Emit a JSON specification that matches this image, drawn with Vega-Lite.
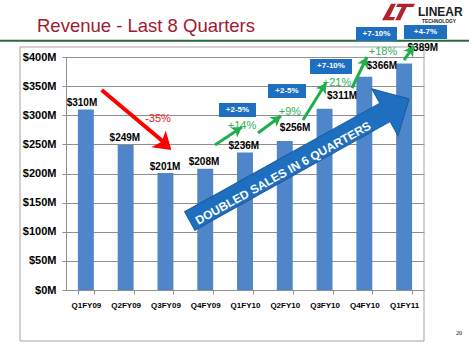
{
  "$schema": "https://vega.github.io/schema/vega-lite/v6.json",
  "width": 358,
  "height": 233,
  "autosize": {"type": "none"},
  "padding": {"left": 66, "top": 57, "right": 45, "bottom": 66},
  "background": "white",
  "config": {"view": {"stroke": null}, "font": "Liberation Sans"},
  "datasets": {
    "revenue": [
      {"quarter": "Q1FY09", "revenue": 310},
      {"quarter": "Q2FY09", "revenue": 249},
      {"quarter": "Q3FY09", "revenue": 201},
      {"quarter": "Q4FY09", "revenue": 208},
      {"quarter": "Q1FY10", "revenue": 236},
      {"quarter": "Q2FY10", "revenue": 256},
      {"quarter": "Q3FY10", "revenue": 311},
      {"quarter": "Q4FY10", "revenue": 366},
      {"quarter": "Q1FY11", "revenue": 389}
    ],
    "valueLabels": [
      {"label": "$310M", "x": 0.40, "y": 321},
      {"label": "$249M", "x": 1.48, "y": 261},
      {"label": "$201M", "x": 2.49, "y": 211},
      {"label": "$208M", "x": 3.47, "y": 220},
      {"label": "$236M", "x": 4.47, "y": 247},
      {"label": "$256M", "x": 5.76, "y": 278},
      {"label": "$311M", "x": 6.94, "y": 333},
      {"label": "$366M", "x": 7.94, "y": 385},
      {"label": "$389M", "x": 8.97, "y": 416}
    ],
    "growthArrows": [
      {"x": 3.746, "y": 248.9, "x2": 4.425, "y2": 279.8},
      {"x": 4.827, "y": 269.5, "x2": 5.405, "y2": 298.7},
      {"x": 5.958, "y": 291.8, "x2": 6.536, "y2": 355.4},
      {"x": 7.19, "y": 346.8, "x2": 7.567, "y2": 400},
      {"x": 8.497, "y": 394.8, "x2": 8.749, "y2": 418.9}
    ],
    "growthLabels": [
      {"label": "+14%", "x": 4.425, "y": 281.5},
      {"label": "+9%", "x": 5.631, "y": 305.6},
      {"label": "+21%", "x": 6.813, "y": 355.4},
      {"label": "+18%", "x": 7.969, "y": 408.6}
    ],
    "guidance": [
      {"label": "+2-5%", "x": 3.846, "x2": 4.776, "y": 321.0, "y2": 297.0},
      {"label": "+2-5%", "x": 5.078, "x2": 6.033, "y": 353.6, "y2": 329.6},
      {"label": "+7-10%", "x": 6.134, "x2": 7.19, "y": 396.6, "y2": 370.8},
      {"label": "+7-10%", "x": 7.29, "x2": 8.321, "y": 451.5, "y2": 427.5},
      {"label": "+4-7%", "x": 8.497, "x2": 9.578, "y": 454.9, "y2": 430.9}
    ]
  },
  "resolve": {"scale": {"x": "independent", "y": "independent"}, "axis": {"x": "independent", "y": "independent"}},
  "layer": [
    {
      "data": {"values": [{}]},
      "mark": {"type": "rect", "fill": "transparent", "stroke": "#a3a3a3", "strokeWidth": 1},
      "encoding": {
        "x": {"datum": -1.156, "type": "quantitative", "scale": {"domain": [0, 9], "nice": false, "zero": false}, "axis": null},
        "x2": {"datum": 9.0},
        "y": {"datum": 417.2, "type": "quantitative", "scale": {"domain": [0, 400], "nice": false}, "axis": null},
        "y2": {"datum": -87.6}
      }
    },
    {
      "data": {"values": [{}]},
      "mark": {"type": "rule", "stroke": "#2a6a3a", "strokeWidth": 2},
      "encoding": {
        "x": {"datum": -1.7, "type": "quantitative", "scale": {"domain": [0, 9], "nice": false, "zero": false}, "axis": null},
        "x2": {"datum": 10.2},
        "y": {"datum": 428.0, "type": "quantitative", "scale": {"domain": [0, 400], "nice": false}, "axis": null}
      }
    },
    {
      "data": {"values": [{"t": "Revenue - Last 8 Quarters"}]},
      "mark": {"type": "text", "align": "left", "baseline": "alphabetic", "fontSize": 18.5, "color": "#a1192f", "font": "Liberation Sans"},
      "encoding": {
        "x": {"datum": -0.729, "type": "quantitative", "scale": {"domain": [0, 9], "nice": false, "zero": false}, "axis": null},
        "y": {"datum": 442.9, "type": "quantitative", "scale": {"domain": [0, 400], "nice": false}, "axis": null},
        "text": {"field": "t"}
      }
    },
    {
      "data": {"values": [{}]},
      "mark": {"type": "point", "filled": true, "opacity": 1, "color": "#b0232f", "size": 1089,
        "shape": "M-1,0.5L-0.3,0.5L-0.2,0.3L-0.55,0.3L-0.15,-0.5L-0.45,-0.5Z M-0.05,-0.5L1,-0.5L0.9,-0.3L0.5,-0.3L0.1,0.5L-0.2,0.5L0.2,-0.3L-0.15,-0.3Z"},
      "encoding": {
        "x": {"datum": 8.359, "type": "quantitative", "scale": {"domain": [0, 9], "nice": false, "zero": false}, "axis": null},
        "y": {"datum": 477.3, "type": "quantitative", "scale": {"domain": [0, 400], "nice": false}, "axis": null}
      }
    },
    {
      "data": {"values": [{"t": "LINEAR", "s": "TECHNOLOGY"}]},
      "layer": [
        {
          "mark": {"type": "text", "align": "left", "baseline": "alphabetic", "fontSize": 12, "fontWeight": "bold", "font": "Liberation Sans", "color": "#1a1a1a"},
          "encoding": {
            "x": {"datum": 8.85, "type": "quantitative", "scale": {"domain": [0, 9], "nice": false, "zero": false}, "axis": null},
            "y": {"datum": 470.0, "type": "quantitative", "scale": {"domain": [0, 400], "nice": false}, "axis": null},
            "text": {"field": "t"}
          }
        },
        {
          "mark": {"type": "text", "align": "left", "baseline": "alphabetic", "fontSize": 4.8, "fontWeight": "bold", "font": "Liberation Sans", "color": "#1a1a1a"},
          "encoding": {
            "x": {"datum": 8.95, "type": "quantitative", "scale": {"domain": [0, 9], "nice": false, "zero": false}, "axis": null},
            "y": {"datum": 458.0, "type": "quantitative", "scale": {"domain": [0, 400], "nice": false}, "axis": null},
            "text": {"field": "s"}
          }
        }
      ]
    },
    {
      "data": {"name": "revenue"},
      "mark": {"type": "bar", "color": "#4f86c9"},
      "encoding": {
        "x": {
          "field": "quarter", "type": "nominal", "sort": null,
          "scale": {"paddingInner": 0.6, "paddingOuter": 0.3},
          "axis": {"title": null, "labelAngle": 0, "labelFontSize": 8, "labelFontWeight": "bold", "labelColor": "#000000",
            "labelFont": "Liberation Sans", "tickBand": "extent", "tickSize": 4, "tickColor": "#8f8f8f",
            "domainColor": "#8f8f8f", "labelPadding": 7}
        },
        "y": {
          "field": "revenue", "type": "quantitative", "scale": {"domain": [0, 400], "nice": false},
          "axis": {"title": null, "values": [0, 50, 100, 150, 200, 250, 300, 350, 400],
            "labelExpr": "'$' + datum.value + 'M'", "grid": true, "gridColor": "#8f8f8f", "gridWidth": 1,
            "domainColor": "#8f8f8f", "tickColor": "#8f8f8f", "tickSize": 4, "labelPadding": 6,
            "labelFontSize": 11, "labelFontWeight": "bold", "labelColor": "#000000", "labelFont": "Liberation Sans"}
        }
      }
    },
    {
      "data": {"values": [{}]},
      "layer": [
        {
          "mark": {"type": "rule", "stroke": "#ff0000", "strokeWidth": 4},
          "encoding": {
            "x": {"datum": 0.897, "type": "quantitative", "scale": {"domain": [0, 9], "nice": false, "zero": false}, "axis": null},
            "x2": {"datum": 2.56},
            "y": {"datum": 343.3, "type": "quantitative", "scale": {"domain": [0, 400], "nice": false}, "axis": null},
            "y2": {"datum": 248.0}
          }
        },
        {
          "mark": {"type": "point", "filled": true, "opacity": 1, "color": "#ff0000", "size": 1156, "angle": 40.7,
            "shape": "M0,0L-1,-0.65L-0.75,0L-1,0.65Z"},
          "encoding": {
            "x": {"datum": 2.649, "type": "quantitative", "scale": {"domain": [0, 9], "nice": false, "zero": false}, "axis": null},
            "y": {"datum": 240.3, "type": "quantitative", "scale": {"domain": [0, 400], "nice": false}, "axis": null}
          }
        }
      ]
    },
    {
      "data": {"values": [{"t": "-35%"}]},
      "mark": {"type": "text", "fontSize": 11, "color": "#e8202a", "align": "center", "baseline": "middle"},
      "encoding": {
        "x": {"datum": 2.313, "type": "quantitative", "scale": {"domain": [0, 9], "nice": false, "zero": false}, "axis": null},
        "y": {"datum": 293.6, "type": "quantitative", "scale": {"domain": [0, 400], "nice": false}, "axis": null},
        "text": {"field": "t"}
      }
    },
    {
      "data": {"name": "valueLabels"},
      "mark": {"type": "text", "fontSize": 10, "fontWeight": "bold", "color": "#000000", "align": "center", "baseline": "middle"},
      "encoding": {
        "x": {"field": "x", "type": "quantitative", "scale": {"domain": [0, 9], "nice": false, "zero": false}, "axis": null},
        "y": {"field": "y", "type": "quantitative", "scale": {"domain": [0, 400], "nice": false}, "axis": null},
        "text": {"field": "label"}
      }
    },
    {
      "data": {"values": [{"t": "DOUBLED SALES IN 6 QUARTERS"}]},
      "layer": [
        {
          "mark": {"type": "point", "filled": true, "opacity": 1, "color": "#1e6fc0", "stroke": "#1a5c9e", "strokeWidth": 1,
            "size": 63001, "angle": -29.1,
            "shape": "M-1,-0.084L0.78,-0.084L0.78,-0.215L1,0L0.78,0.215L0.78,0.084L-1,0.084Z"},
          "encoding": {
            "x": {"datum": 5.868, "type": "quantitative", "scale": {"domain": [0, 9], "nice": false, "zero": false}, "axis": null},
            "y": {"datum": 223.2, "type": "quantitative", "scale": {"domain": [0, 400], "nice": false}, "axis": null}
          }
        },
        {
          "mark": {"type": "text", "fontSize": 12, "fontWeight": "bold", "color": "#ffffff", "angle": -29.1, "align": "center", "baseline": "middle"},
          "encoding": {
            "x": {"datum": 5.455, "type": "quantitative", "scale": {"domain": [0, 9], "nice": false, "zero": false}, "axis": null},
            "y": {"datum": 200.5, "type": "quantitative", "scale": {"domain": [0, 400], "nice": false}, "axis": null},
            "text": {"field": "t"}
          }
        }
      ]
    },
    {
      "data": {"name": "growthArrows"},
      "transform": [
        {"calculate": "atan2(-(datum.y2 - datum.y) * 0.5825, (datum.x2 - datum.x) * 39.778) * 180 / PI", "as": "angle"}
      ],
      "layer": [
        {
          "mark": {"type": "rule", "stroke": "#1fae4c", "strokeWidth": 3},
          "encoding": {
            "x": {"field": "x", "type": "quantitative", "scale": {"domain": [0, 9], "nice": false, "zero": false}, "axis": null},
            "x2": {"field": "x2"},
            "y": {"field": "y", "type": "quantitative", "scale": {"domain": [0, 400], "nice": false}, "axis": null},
            "y2": {"field": "y2"}
          }
        },
        {
          "mark": {"type": "point", "filled": true, "opacity": 1, "color": "#1fae4c", "size": 400,
            "shape": "M0,0L-1,-0.6L-0.75,0L-1,0.6Z"},
          "encoding": {
            "x": {"field": "x2", "type": "quantitative", "scale": {"domain": [0, 9], "nice": false, "zero": false}, "axis": null},
            "y": {"field": "y2", "type": "quantitative", "scale": {"domain": [0, 400], "nice": false}, "axis": null},
            "angle": {"field": "angle", "type": "quantitative", "scale": null}
          }
        }
      ]
    },
    {
      "data": {"name": "growthLabels"},
      "mark": {"type": "text", "fontSize": 11, "color": "#2db257", "align": "center", "baseline": "middle"},
      "encoding": {
        "x": {"field": "x", "type": "quantitative", "scale": {"domain": [0, 9], "nice": false, "zero": false}, "axis": null},
        "y": {"field": "y", "type": "quantitative", "scale": {"domain": [0, 400], "nice": false}, "axis": null},
        "text": {"field": "label"}
      }
    },
    {
      "data": {"name": "guidance"},
      "transform": [
        {"calculate": "(datum.x + datum.x2) / 2", "as": "cx"},
        {"calculate": "(datum.y + datum.y2) / 2", "as": "cy"}
      ],
      "layer": [
        {
          "mark": {"type": "rect", "color": "#1e6fc0"},
          "encoding": {
            "x": {"field": "x", "type": "quantitative", "scale": {"domain": [0, 9], "nice": false, "zero": false}, "axis": null},
            "x2": {"field": "x2"},
            "y": {"field": "y", "type": "quantitative", "scale": {"domain": [0, 400], "nice": false}, "axis": null},
            "y2": {"field": "y2"}
          }
        },
        {
          "mark": {"type": "text", "fontSize": 8, "fontWeight": "bold", "color": "#ffffff", "align": "center", "baseline": "middle"},
          "encoding": {
            "x": {"field": "cx", "type": "quantitative", "scale": {"domain": [0, 9], "nice": false, "zero": false}, "axis": null},
            "y": {"field": "cy", "type": "quantitative", "scale": {"domain": [0, 400], "nice": false}, "axis": null},
            "text": {"field": "label"}
          }
        }
      ]
    },
    {
      "data": {"values": [{"t": "20"}]},
      "mark": {"type": "text", "fontSize": 6, "font": "Liberation Serif", "color": "#000000", "align": "center", "baseline": "middle"},
      "encoding": {
        "x": {"datum": 9.88, "type": "quantitative", "scale": {"domain": [0, 9], "nice": false, "zero": false}, "axis": null},
        "y": {"datum": -73.8, "type": "quantitative", "scale": {"domain": [0, 400], "nice": false}, "axis": null},
        "text": {"field": "t"}
      }
    }
  ]
}
